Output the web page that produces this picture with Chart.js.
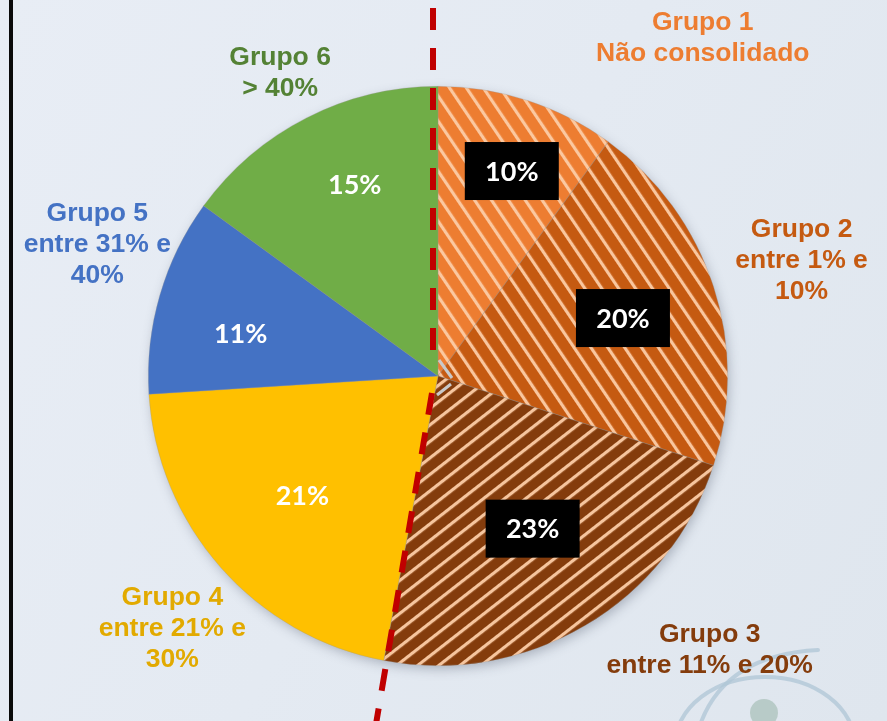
<!DOCTYPE html>
<html>
<head>
<meta charset="utf-8">
<script src="https://cdn.jsdelivr.net/npm/chart.js@4.4.1/dist/chart.umd.min.js"></script>
<style>
  html, body { margin: 0; padding: 0; }
  body { width: 887px; height: 721px; overflow: hidden; position: relative;
         background: linear-gradient(120deg, #e8edf5 0%, #e4eaf2 50%, #dfe6ee 100%); }
  #wrap { position: absolute; left: 0; top: 0; width: 887px; height: 721px; }
  #edge { position: absolute; left: 9px; top: 0; width: 4px; height: 721px; background: #0a0a0a; }
</style>
</head>
<body>
<div id="edge"></div>
<div id="wrap"><canvas id="c" width="887" height="721"></canvas></div>
<script>
// ---- data ----
const categories = ['Grupo 1', 'Grupo 2', 'Grupo 3', 'Grupo 4', 'Grupo 5', 'Grupo 6'];
const groupRanges = [['Não consolidado'], ['entre 1% e', '10%'], ['entre 11% e 20%'], ['entre 21% e', '30%'], ['entre 31% e', '40%'], ['> 40%']];
const shares = [10, 20, 23, 21, 11, 15];

// ---- styles ----
const sliceColors = ['#ED7D31', '#C55A11', '#843C0C', '#FFC000', '#4472C4', '#70AD47'];
const labelColors = ['#ED7D31', '#C55A11', '#843C0C', '#E2AA00', '#4472C4', '#548235'];
const hatched = [true, true, true, false, false, false];
const hatchAngle = [-34, -34, 52, 0, 0, 0];
const hatchPeriod = [14, 14, 13, 0, 0, 0];
const boxed = [true, true, true, false, false, false];
const innerRadiusFactor = [0.752, 0.669, 0.62, 0.624, 0.697, 0.721];
const innerAngleShift = [1.8, 0.6, -1.2, 0, -4, 3.5];
// outside label anchor offsets relative to the pie centre (fraction of radius), first baseline
const outsideOffset = [[0.914, -1.193], [1.255, -0.479], [0.938, 0.917], [-0.917, 0.790], [-1.176, -0.534], [-0.545, -1.072]];

function makeHatch(bg, angle, period) {
  const t = document.createElement('canvas');
  t.width = period; t.height = 16;
  const g = t.getContext('2d');
  g.fillStyle = bg; g.fillRect(0, 0, period, 16);
  g.fillStyle = 'rgba(252,204,166,0.95)';
  g.fillRect(0, 0, 3.2, 16);
  const ctx = document.getElementById('c').getContext('2d');
  const p = ctx.createPattern(t, 'repeat');
  p.setTransform(new DOMMatrix().rotate(angle));
  return p;
}
const fills = sliceColors.map((c, i) => hatched[i] ? makeHatch(c, hatchAngle[i], hatchPeriod[i]) : c);

const shadowPlugin = {
  id: 'shadow',
  beforeDatasetsDraw(chart) {
    const arc = chart.getDatasetMeta(0).data[0];
    if (!arc) return;
    const ctx = chart.ctx;
    ctx.save();
    ctx.shadowColor = 'rgba(60,70,90,0.35)';
    ctx.shadowBlur = 12;
    ctx.shadowOffsetX = 2;
    ctx.shadowOffsetY = 4;
    ctx.fillStyle = '#999';
    ctx.beginPath();
    ctx.arc(arc.x, arc.y, arc.outerRadius - 1, 0, Math.PI * 2);
    ctx.fill();
    ctx.restore();
  }
};

const decoPlugin = {
  id: 'deco',
  beforeDraw(chart) {
    const ctx = chart.ctx;
    ctx.save();
    ctx.strokeStyle = 'rgba(175,198,214,0.75)';
    ctx.lineWidth = 4;
    ctx.lineCap = 'round';
    ctx.beginPath();
    ctx.ellipse(765, 745, 90, 68, 0, Math.PI, 2 * Math.PI);
    ctx.stroke();
    ctx.beginPath();
    ctx.moveTo(700, 725);
    ctx.quadraticCurveTo(725, 655, 818, 650);
    ctx.stroke();
    ctx.fillStyle = 'rgba(180,200,195,0.9)';
    ctx.beginPath();
    ctx.arc(764, 713, 14, 0, Math.PI * 2);
    ctx.fill();
    ctx.restore();
  }
};

const overlayPlugin = {
  id: 'overlay',
  afterDatasetsDraw(chart) {
    const ctx = chart.ctx;
    const meta = chart.getDatasetMeta(0);
    const a0 = meta.data[0];
    const cx = a0.x, cy = a0.y, R = a0.outerRadius;

    // red dashed guide line
    ctx.save();
    ctx.strokeStyle = '#C00000';
    ctx.lineWidth = 6;
    ctx.setLineDash([22, 18]);
    ctx.beginPath();
    ctx.moveTo(cx - 5, 8);
    ctx.lineTo(cx - 5, cy - 18);
    ctx.stroke();
    const tilt = 9.6 * Math.PI / 180;
    const sx = cx - 6, sy = cy + 17;
    const len = (chart.height - sy + 10) / Math.cos(tilt);
    ctx.beginPath();
    ctx.moveTo(sx, sy);
    ctx.lineTo(sx - Math.sin(tilt) * len, sy + Math.cos(tilt) * len);
    ctx.stroke();
    ctx.setLineDash([]);
    ctx.strokeStyle = '#c9c9c9';
    ctx.lineWidth = 3;
    ctx.beginPath();
    ctx.moveTo(cx + 1, cy - 16); ctx.lineTo(cx + 14, cy + 2);
    ctx.moveTo(cx - 1, cy + 19); ctx.lineTo(cx + 13, cy + 8);
    ctx.stroke();
    ctx.restore();

    // inner value labels
    ctx.save();
    ctx.font = 'bold 27px Lato, "Open Sans", sans-serif';
    ctx.textAlign = 'center';
    ctx.textBaseline = 'middle';
    meta.data.forEach((arc, i) => {
      const mid = (arc.startAngle + arc.endAngle) / 2 + innerAngleShift[i] * Math.PI / 180;
      const r = R * innerRadiusFactor[i];
      const x = cx + Math.cos(mid) * r;
      const y = cy + Math.sin(mid) * r;
      const txt = shares[i] + '%';
      if (boxed[i]) {
        ctx.fillStyle = '#000';
        ctx.fillRect(x - 47, y - 29, 94, 58);
      }
      ctx.fillStyle = '#ffffff';
      ctx.fillText(txt, x, y + 1);
    });
    ctx.restore();

    // outside group labels
    ctx.save();
    ctx.font = 'bold 26.5px "Liberation Sans", Arial, sans-serif';
    ctx.textAlign = 'center';
    ctx.textBaseline = 'alphabetic';
    categories.forEach((name, i) => {
      const x = cx + outsideOffset[i][0] * R;
      let y = cy + outsideOffset[i][1] * R;
      ctx.fillStyle = labelColors[i];
      [name].concat(groupRanges[i]).forEach(line => {
        ctx.fillText(line, x, y);
        y += 31;
      });
    });
    ctx.restore();
  }
};

new Chart(document.getElementById('c'), {
  type: 'pie',
  data: {
    labels: categories,
    datasets: [{
      data: shares,
      backgroundColor: fills,
      borderWidth: 0.6,
      borderColor: 'rgba(150,150,150,0.5)'
    }]
  },
  options: {
    responsive: false,
    animation: false,
    layout: { padding: { top: 86, bottom: 55, left: 148, right: 159 } },
    plugins: { legend: { display: false }, tooltip: { enabled: false } }
  },
  plugins: [decoPlugin, shadowPlugin, overlayPlugin]
});
</script>
</body>
</html>
